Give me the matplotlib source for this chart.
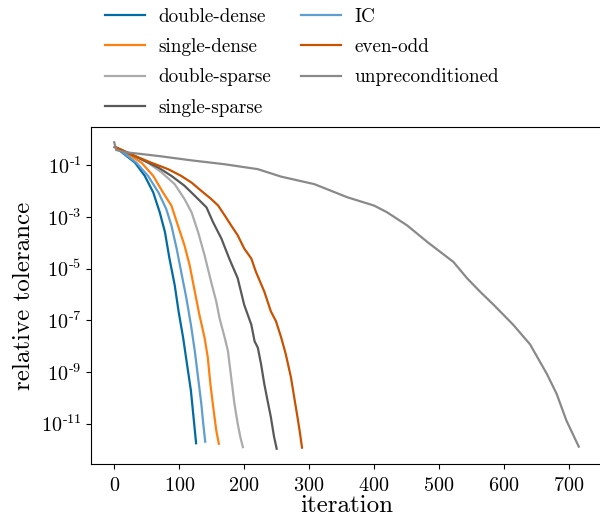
import math
import matplotlib
matplotlib.use("Agg")
import matplotlib.pyplot as plt
import matplotlib.ticker as mticker

plt.rcParams['font.family'] = ['cmr10', 'DejaVu Serif']
plt.rcParams['mathtext.fontset'] = 'cm'
plt.rcParams['axes.formatter.use_mathtext'] = True

# (iteration, log10 relative tolerance)
dd_it = [1, 16, 32, 47, 60, 70, 78, 85, 93, 99, 106, 112, 118, 122, 126]
dd_lg = [-0.29, -0.58, -0.90, -1.41, -2.05, -2.82, -3.58, -4.61, -5.63, -6.65, -7.67, -8.70, -9.72, -10.74, -11.76]

ic_it = [1, 16, 34, 52, 68, 80, 88, 96, 103, 111, 118, 124, 129, 134, 137, 140]
ic_lg = [-0.29, -0.55, -0.90, -1.41, -2.05, -2.69, -3.33, -4.22, -5.12, -6.14, -7.17, -8.19, -9.21, -10.23, -11.00, -11.70]

sd_it = [1, 22, 42, 60, 75, 88, 98, 108, 116, 124, 131, 139, 144, 148, 153, 157, 161]
sd_lg = [-0.29, -0.58, -0.90, -1.41, -2.05, -2.56, -3.33, -4.09, -4.86, -5.89, -6.78, -7.67, -8.44, -9.47, -10.49, -11.26, -11.78]

ds_it = [1, 27, 52, 73, 93, 108, 119, 129, 139, 149, 157, 162, 170, 175, 180, 185, 190, 194, 198]
ds_lg = [-0.29, -0.58, -0.90, -1.28, -1.73, -2.30, -2.82, -3.58, -4.48, -5.50, -6.27, -6.91, -7.67, -8.19, -9.21, -10.23, -11.00, -11.51, -11.91]

ss_it = [1, 37, 68, 88, 108, 124, 142, 152, 165, 177, 190, 200, 211, 216, 221, 226, 231, 236, 241, 246, 250]
ss_lg = [-0.29, -0.71, -1.09, -1.41, -1.79, -2.18, -2.63, -3.20, -3.84, -4.61, -5.37, -6.40, -7.17, -7.81, -8.06, -8.70, -9.47, -10.11, -10.74, -11.51, -11.97]

eo_it = [1, 32, 57, 83, 103, 119, 134, 149, 160, 170, 180, 190, 200, 211, 218, 231, 241, 249, 257, 264, 272, 277, 282, 286, 289]
eo_lg = [-0.29, -0.64, -0.90, -1.15, -1.41, -1.67, -1.99, -2.30, -2.56, -2.94, -3.33, -3.71, -4.22, -4.61, -5.12, -5.89, -6.65, -7.04, -7.67, -8.31, -9.21, -9.98, -10.74, -11.38, -11.93]

un_it = [0, 3, 16, 68, 119, 170, 221, 257, 308, 359, 400, 420, 451, 482, 522, 543, 563, 584, 614, 640, 666, 681, 696, 715]
un_lg = [-0.11, -0.41, -0.49, -0.64, -0.81, -0.96, -1.15, -1.44, -1.73, -2.24, -2.56, -2.82, -3.33, -3.97, -4.74, -5.37, -5.89, -6.40, -7.17, -7.93, -9.08, -9.85, -10.88, -11.89]

labels = ['double-dense', 'single-dense', 'double-sparse', 'single-sparse',
          'IC', 'even-odd', 'unpreconditioned']
colors = ['#006BA4', '#FF800E', '#ABABAB', '#595959', '#5F9ED1', '#C85200', '#898989']
series = [(dd_it, dd_lg), (sd_it, sd_lg), (ds_it, ds_lg), (ss_it, ss_lg),
          (ic_it, ic_lg), (eo_it, eo_lg), (un_it, un_lg)]

fig = plt.figure(figsize=(6.0, 5.17), dpi=100)
ax = fig.add_axes([0.1517, 0.1025, 0.8516, 0.6519])

for (its, lgs), lab, col in zip(series, labels, colors):
    ax.plot(its, [10.0 ** v for v in lgs], color=col, lw=1.6, label=lab)


# tick labels like 10^{-1} with a text hyphen, as LaTeX output shows
def tex_tick(y, pos):
    e = int(round(math.log10(y)))
    return r'$10^{\text{-}%d}$' % abs(e)


ax.set_yscale('log')
ax.yaxis.set_major_locator(mticker.FixedLocator([10.0 ** e for e in range(-11, 0, 2)]))
ax.yaxis.set_minor_locator(mticker.NullLocator())
ax.yaxis.set_major_formatter(mticker.FuncFormatter(tex_tick))
ax.set_xticks([0, 100, 200, 300, 400, 500, 600, 700])
ax.tick_params(labelsize=14.5)
ax.tick_params(axis='x', pad=5.5)
ax.set_xlabel('iteration', fontsize=18, labelpad=0)
ax.set_ylabel('relative tolerance', fontsize=18, labelpad=4)

fig.legend(loc='upper left', bbox_to_anchor=(0.162, 1.0), borderaxespad=0, ncol=2,
           frameon=False, fontsize=13.8, handlelength=2.1, handletextpad=0.7,
           labelspacing=0.65, columnspacing=1.55)

fig.savefig('out.png', dpi=100)
